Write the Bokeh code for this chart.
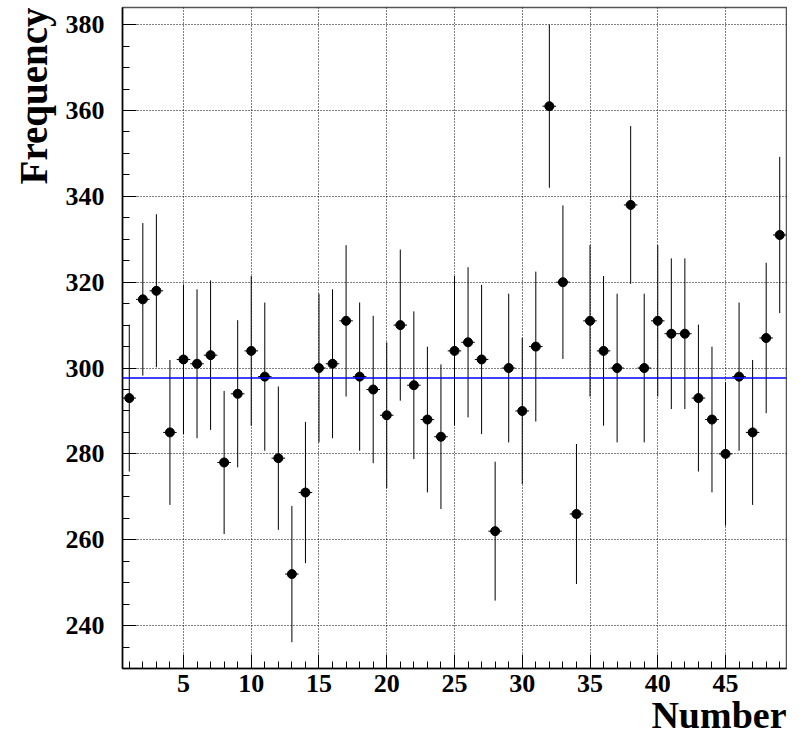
import numpy as np
from bokeh.plotting import figure
from bokeh.models import Range1d, SingleIntervalTicker, Span, ColumnDataSource, FixedTicker, Title
from bokeh.embed import file_html
from bokeh.resources import INLINE

numbers = list(range(1, 50))
frequency = [293, 316, 318, 285, 302, 301, 303, 278, 294, 304,
             298, 279, 252, 271, 300, 301, 311, 298, 295, 289,
             310, 296, 288, 284, 304, 306, 302, 262, 300, 290,
             305, 361, 320, 266, 311, 304, 300, 338, 300, 311,
             308, 308, 293, 288, 280, 298, 285, 307, 331]
fit_constant = 297.7
x_major_ticks = [5, 10, 15, 20, 25, 30, 35, 40, 45]
y_major_ticks = [240, 260, 280, 300, 320, 340, 360, 380]
x_title = "Number"
y_title = "Frequency"

x = np.array(numbers, dtype=float)
f = np.array(frequency, dtype=float)
err = np.sqrt(f)

src = ColumnDataSource(dict(x=x, f=f, lo=f - err, hi=f + err, xl=x - 0.5, xr=x + 0.5))

FONT = "Liberation Serif"

p = figure(width=787, height=739, output_backend="svg", toolbar_location=None,
           x_range=Range1d(0.5, 49.5), y_range=Range1d(230, 384),
           min_border_left=122, min_border_right=1, min_border_top=7, min_border_bottom=71)

p.background_fill_color = "white"
p.border_fill_color = "white"
p.outline_line_color = "#555555"
p.outline_line_width = 1.5

# axes
p.xaxis.ticker = SingleIntervalTicker(interval=5, num_minor_ticks=5)
p.yaxis.ticker = SingleIntervalTicker(interval=20, num_minor_ticks=4)
for ax in (p.xaxis[0], p.yaxis[0]):
    ax.axis_line_color = "black"
    ax.axis_line_width = 1.5
    ax.major_tick_in = 14
    ax.major_tick_out = 0
    ax.minor_tick_in = 7
    ax.minor_tick_out = 0
    ax.major_tick_line_color = "black"
    ax.minor_tick_line_color = "black"
    ax.major_label_text_font = FONT
    ax.major_label_text_font_style = "bold"
    ax.major_label_text_font_size = "26px"
    ax.major_label_text_color = "black"

p.xaxis.major_label_standoff = 6
p.yaxis.major_label_standoff = 18

# axis titles (right / top aligned, as in ROOT)
xt = Title(text=x_title, align="right", text_font=FONT, text_font_style="bold",
           text_font_size="38px", text_color="black", standoff=-6)
yt = Title(text=y_title, align="right", text_font=FONT, text_font_style="bold",
           text_font_size="39px", text_color="black", standoff=15)
p.add_layout(xt, "below")
p.add_layout(yt, "left")

# grid
p.xgrid.ticker = FixedTicker(ticks=x_major_ticks)
p.ygrid.ticker = FixedTicker(ticks=y_major_ticks)
for g in (p.xgrid[0], p.ygrid[0]):
    g.grid_line_color = "black"
    g.grid_line_dash = "1 2"
    g.grid_line_width = 1

# fit line
p.add_layout(Span(location=fit_constant, dimension="width", line_color="blue", line_width=1.5))

# error bars
p.segment(x0="x", y0="lo", x1="x", y1="hi", source=src, line_color="black", line_width=1)
p.segment(x0="xl", y0="f", x1="xr", y1="f", source=src, line_color="black", line_width=1)
p.scatter(x="x", y="f", source=src, size=9, fill_color="black", line_color="black")

open("out.html", "w").write(file_html(p, INLINE))
